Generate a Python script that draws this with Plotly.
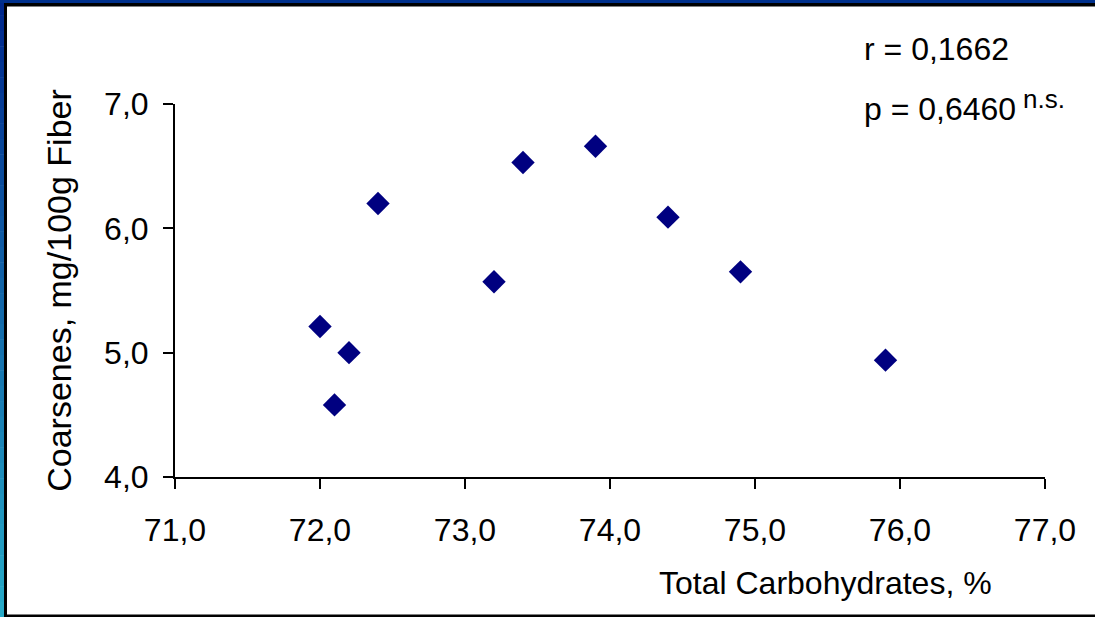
import plotly.graph_objects as go

carbs = [72.0, 72.1, 72.2, 72.4, 73.2, 73.4, 73.9, 74.4, 74.9, 75.9]
coarsenes = [5.21, 4.58, 5.00, 6.20, 5.57, 6.53, 6.66, 6.09, 5.65, 4.94]
x_ticks = [71, 72, 73, 74, 75, 76, 77]
x_labels = ["71,0", "72,0", "73,0", "74,0", "75,0", "76,0", "77,0"]
y_ticks = [4, 5, 6, 7]
y_labels = ["4,0", "5,0", "6,0", "7,0"]

W, H = 1095, 617
L, R, T, B = 175, 1045, 104, 477
FONT = "Arial, Liberation Sans, sans-serif"

def px(x):
    return (x - L) / (R - L)

def py(y):
    return (B - y) / (B - T)

fig = go.Figure()
fig.add_trace(go.Scatter(
    x=carbs, y=coarsenes, mode="markers",
    marker=dict(symbol="diamond", size=18, color="#000080", line=dict(width=0)),
    showlegend=False, hoverinfo="x+y",
))

shapes = []
# left gradient band
n = 40
top_c = (0, 40, 140)
bot_c = (40, 170, 200)
for i in range(n):
    f = i / (n - 1)
    c = tuple(int(top_c[k] + (bot_c[k] - top_c[k]) * f) for k in range(3))
    y0 = i * H / n
    y1 = (i + 1) * H / n + 0.5
    shapes.append(dict(type="rect", xref="paper", yref="paper",
                       x0=px(0), x1=px(4), y0=py(y1), y1=py(y0),
                       fillcolor="rgb(%d,%d,%d)" % c, line=dict(width=0), layer="below"))
# top blue band
shapes.append(dict(type="rect", xref="paper", yref="paper",
                   x0=px(0), x1=px(W), y0=py(3), y1=py(0),
                   fillcolor="#00308c", line=dict(width=0), layer="below"))
# black frame lines
shapes.append(dict(type="rect", xref="paper", yref="paper",
                   x0=px(4), x1=px(W), y0=py(6.5), y1=py(3),
                   fillcolor="black", line=dict(width=0), layer="below"))
shapes.append(dict(type="rect", xref="paper", yref="paper",
                   x0=px(4), x1=px(7), y0=py(W), y1=py(3),
                   fillcolor="black", line=dict(width=0), layer="below"))
shapes.append(dict(type="rect", xref="paper", yref="paper",
                   x0=px(4), x1=px(W), y0=py(617), y1=py(614.5),
                   fillcolor="black", line=dict(width=0), layer="below"))

annotations = [
    dict(text="r = 0,1662", xref="paper", yref="paper", x=px(862), y=py(49),
         xanchor="left", yanchor="middle", showarrow=False,
         font=dict(family=FONT, size=32, color="black")),
    dict(text="p = 0,6460", xref="paper", yref="paper", x=px(862), y=py(109),
         xanchor="left", yanchor="middle", showarrow=False,
         font=dict(family=FONT, size=32, color="black")),
    dict(text="n.s.", xref="paper", yref="paper", x=px(1021), y=py(99),
         xanchor="left", yanchor="middle", showarrow=False,
         font=dict(family=FONT, size=26, color="black")),
    dict(text="Total Carbohydrates, %", xref="paper", yref="paper", x=px(825), y=py(583),
         xanchor="center", yanchor="middle", showarrow=False,
         font=dict(family=FONT, size=32, color="black")),
]

fig.update_layout(
    width=W, height=H, autosize=False,
    margin=dict(l=L, r=W - R, t=T, b=H - B, pad=0),
    paper_bgcolor="white", plot_bgcolor="white",
    font=dict(family=FONT, size=32, color="black"),
    shapes=shapes, annotations=annotations,
    xaxis=dict(range=[71, 77], tickvals=x_ticks, ticktext=x_labels,
               showgrid=False, zeroline=False, showline=True, linecolor="black",
               linewidth=2, ticks="outside", ticklen=10, tickwidth=2, tickcolor="black",
               ticklabelstandoff=14, tickfont=dict(family=FONT, size=32, color="black")),
    yaxis=dict(range=[4, 7], tickvals=y_ticks, ticktext=y_labels,
               showgrid=False, zeroline=False, showline=True, linecolor="black",
               linewidth=2, ticks="outside", ticklen=10, tickwidth=2, tickcolor="black",
               ticklabelstandoff=8, tickfont=dict(family=FONT, size=32, color="black"),
               title=dict(text="Coarsenes, mg/100g Fiber", standoff=22,
                          font=dict(family=FONT, size=34, color="black"))),
)

fig.write_html("out.html")
